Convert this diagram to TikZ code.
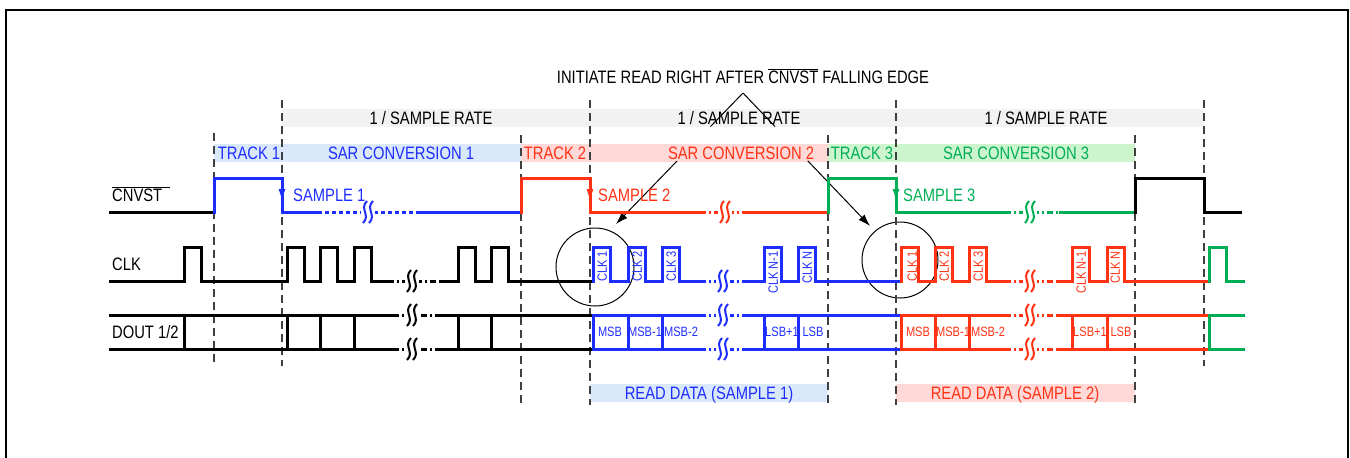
\documentclass[tikz,border=0pt]{standalone}
\usepackage{fontspec}
\setmainfont{Liberation Sans}[FakeStretch=0.82]
\usepackage{xcolor}
\usepackage{tikz}
\usetikzlibrary{arrows.meta,calc}

\definecolor{sigblue}{RGB}{30,45,255}
\definecolor{sigred}{RGB}{255,50,20}
\definecolor{siggreen}{RGB}{0,175,85}
\definecolor{bandgray}{RGB}{242,242,242}
\definecolor{bandblue}{RGB}{217,232,250}
\definecolor{bandred}{RGB}{255,216,216}
\definecolor{bandgreen}{RGB}{205,245,205}

\newcommand{\ovl}[1]{\ensuremath{\overline{\mbox{#1}}}}
% break mark on a signal line: x, y, colour
\newcommand{\gapmark}[3]{%
  \fill[white] (#1-7,#2-4) rectangle (#1+7,#2+4);
  \draw[#3, line width=2pt] (#1-1,#2-11) .. controls (#1-9,#2-3) and (#1+3,#2+3) .. (#1-5,#2+11);
  \draw[#3, line width=2pt] (#1+5,#2-11) .. controls (#1-3,#2-3) and (#1+9,#2+3) .. (#1+1,#2+11);
}

\begin{document}
\begin{tikzpicture}[x=1pt,y=-1pt,
    sig/.style={line width=3pt, line cap=rect},
    gapdash/.style={line width=3pt, dash pattern=on 6pt off 3pt on 2pt off 3pt},
    cutline/.style={draw=black!75, line width=1.5pt, dash pattern=on 8pt off 5pt},
    lbl/.style={inner sep=0pt, font=\fontsize{18}{20}\selectfont, text height=12.9pt, text depth=0pt},
    bitlbl/.style={inner sep=0pt, font=\fontsize{13.5}{15}\selectfont, text height=9.7pt, text depth=0pt},
    pointer/.style={line width=1pt},
    tip/.style={-{Latex[length=12pt,width=8pt]}},
    edgetip/.style={line width=1pt, -{Latex[length=12pt,width=7pt]}}]

  \useasboundingbox (0,0) rectangle (1350,458);

  % Frame
  \draw[line width=2pt] (6,458) -- (6,10) -- (1348,10) -- (1348,458);

  % Sample rate bands
  \fill[bandgray] (282,109) rectangle (1204,127);
  \foreach \x/\n in {431/1,739/2,1046/3}
    \node[lbl] (rate\n) at (\x,118) {1 / SAMPLE RATE};

  % Track / conversion bands
  \fill[bandblue] (214,144) rectangle (521,162);
  \fill[bandred] (521,144) rectangle (828,162);
  \fill[bandgreen] (828,144) rectangle (1135,162);
  \node[lbl, sigblue] (track1) at (249,153) {TRACK 1};
  \node[lbl, sigblue] (conv1) at (401,153) {SAR CONVERSION 1};
  \node[lbl, sigred] (track2) at (555,153) {TRACK 2};
  \node[lbl, sigred] (conv2) at (741,153) {SAR CONVERSION 2};
  \node[lbl, siggreen] (track3) at (862,153) {TRACK 3};
  \node[lbl, siggreen] (conv3) at (1016,153) {SAR CONVERSION 3};

  % Read data bands
  \fill[bandblue] (590,384) rectangle (828,402);
  \fill[bandred] (896,384) rectangle (1135,402);
  \node[lbl, sigblue] (read1) at (709,393) {READ DATA (SAMPLE 1)};
  \node[lbl, sigred] (read2) at (1015,393) {READ DATA (SAMPLE 2)};

  % Note with pointers
  \node[lbl] (note) at (743,77) {INITIATE READ RIGHT AFTER \ovl{CNVST} FALLING EDGE};
  \coordinate (apex) at (743,93);
  \coordinate (tipa) at (616,224);
  \coordinate (tipb) at (870,226);
  \draw[pointer] (apex) -- ($(apex)!0.256!(tipa)$);
  \draw[pointer, tip] ($(apex)!0.52!(tipa)$) -- (tipa);
  \draw[pointer] (apex) -- ($(apex)!0.252!(tipb)$);
  \draw[pointer, tip] ($(apex)!0.51!(tipb)$) -- (tipb);
  \draw[pointer] (595,267) circle (39pt);
  \draw[pointer] (900,260) circle (38pt);

  % Edge markers
  \foreach \x/\ya/\yb in {214/133/362, 282/100/366, 521/135/405, 590/100/405,
                          828/135/405, 896/100/405, 1135/135/405, 1204/100/366}
    \draw[cutline] (\x,\ya) -- (\x,\yb);

  % Signal names
  \node[lbl, anchor=west] (cnvst) at (112,195) {\ovl{CNVST\kern8pt}};
  \node[lbl, anchor=west] (clk) at (112,264) {CLK};
  \node[lbl, anchor=west] (dout) at (112,332) {DOUT 1/2};

  % CNVST
  \draw[sig] (110,212) -- (214,212);
  \draw[sig, sigblue] (214,212) -- (214,178) -- (282,178) -- (282,212) -- (318,212);
  \draw[gapdash, sigblue, dash pattern=on 4pt off 3pt] (318,212) -- (418,212);
  \draw[sig, sigblue] (418,212) -- (521,212);
  \draw[sig, sigred] (521,212) -- (521,178) -- (590,178) -- (590,212) -- (700,212);
  \draw[gapdash, sigred] (700,212) -- (748,212);
  \draw[sig, sigred] (748,212) -- (828,212);
  \draw[sig, siggreen] (828,212) -- (828,178) -- (896,178) -- (896,212) -- (1005,212);
  \draw[gapdash, siggreen] (1005,212) -- (1060,212);
  \draw[sig, siggreen] (1060,212) -- (1135,212);
  \draw[sig] (1135,212) -- (1135,178) -- (1204,178) -- (1204,212) -- (1240,212);
  \draw[edgetip, sigblue] (282,186) -- (282,201);
  \draw[edgetip, sigred] (590,186) -- (590,201);
  \draw[edgetip, siggreen] (896,186) -- (896,201);
  \node[lbl, sigblue, anchor=west] (smp1) at (293,195) {SAMPLE 1};
  \node[lbl, sigred, anchor=west] (smp2) at (598,195) {SAMPLE 2};
  \node[lbl, siggreen, anchor=west] (smp3) at (903,195) {SAMPLE 3};
  \gapmark{368}{212}{sigblue}
  \gapmark{725}{212}{sigred}
  \gapmark{1030}{212}{siggreen}

  % CLK
  \draw[sig] (110,281) \foreach \x in {184,287,320,354}
    { -- (\x,281) -- (\x,247) -- (\x+17,247) -- (\x+17,281) } -- (388,281);
  \draw[gapdash] (388,281) -- (440,281);
  \draw[sig] (440,281) \foreach \x in {458,491}
    { -- (\x,281) -- (\x,247) -- (\x+17,247) -- (\x+17,281) } -- (593,281);
  \draw[sig, sigblue] (593,281) \foreach \x in {593,628,662}
    { -- (\x,281) -- (\x,247) -- (\x+17,247) -- (\x+17,281) } -- (700,281);
  \draw[gapdash, sigblue] (700,281) -- (748,281);
  \draw[sig, sigblue] (748,281) \foreach \x in {764,798}
    { -- (\x,281) -- (\x,247) -- (\x+17,247) -- (\x+17,281) } -- (901,281);
  \draw[sig, sigred] (901,281) \foreach \x in {901,935,969}
    { -- (\x,281) -- (\x,247) -- (\x+17,247) -- (\x+17,281) } -- (1005,281);
  \draw[gapdash, sigred] (1005,281) -- (1057,281);
  \draw[sig, sigred] (1057,281) \foreach \x in {1072,1107}
    { -- (\x,281) -- (\x,247) -- (\x+17,247) -- (\x+17,281) } -- (1209,281);
  \draw[sig, siggreen] (1209,281) -- (1209,247) -- (1226,247) -- (1226,281) -- (1243,281);
  \gapmark{412}{281}{black}
  \gapmark{723}{281}{sigblue}
  \gapmark{1030}{281}{sigred}
  \foreach \x/\t [count=\i] in {602/CLK 1, 637/CLK 2, 671/CLK 3, 773/CLK N-1, 807/CLK N}
    \node[bitlbl, sigblue, rotate=90, anchor=east] (clkb\i) at (\x,251) {\t};
  \foreach \x/\t [count=\i] in {912/CLK 1, 944/CLK 2, 978/CLK 3, 1081/CLK N-1, 1115/CLK N}
    \node[bitlbl, sigred, rotate=90, anchor=east] (clkr\i) at (\x,251) {\t};

  % DOUT
  \foreach \y in {315,349} {
    \draw[sig] (110,\y) -- (393,\y);
    \draw[gapdash] (393,\y) -- (438,\y);
    \draw[sig] (438,\y) -- (593,\y);
    \draw[sig, sigblue] (593,\y) -- (700,\y);
    \draw[gapdash, sigblue] (700,\y) -- (748,\y);
    \draw[sig, sigblue] (748,\y) -- (901,\y);
    \draw[sig, sigred] (901,\y) -- (1005,\y);
    \draw[gapdash, sigred] (1005,\y) -- (1058,\y);
    \draw[sig, sigred] (1058,\y) -- (1209,\y);
    \draw[sig, siggreen] (1209,\y) -- (1243,\y);
    \gapmark{412}{\y}{black}
    \gapmark{723}{\y}{sigblue}
    \gapmark{1030}{\y}{sigred}
  }
  \foreach \x in {184,287,320,354,458,491}
    \draw[sig] (\x,315) -- (\x,349);
  \foreach \x in {593,628,662,764,798}
    \draw[sig, sigblue] (\x,315) -- (\x,349);
  \foreach \x in {901,935,969,1072,1107}
    \draw[sig, sigred] (\x,315) -- (\x,349);
  \draw[sig, siggreen] (1209,315) -- (1209,349);
  \foreach \x/\t [count=\i] in {610/MSB, 645/MSB-1, 681/MSB-2, 782/LSB+1, 813/LSB}
    \node[bitlbl, sigblue] (bitb\i) at (\x,332) {\t};
  \foreach \x/\t [count=\i] in {918/MSB, 953/MSB-1, 988/MSB-2, 1090/LSB+1, 1121/LSB}
    \node[bitlbl, sigred] (bitr\i) at (\x,332) {\t};

\end{tikzpicture}
\end{document}
